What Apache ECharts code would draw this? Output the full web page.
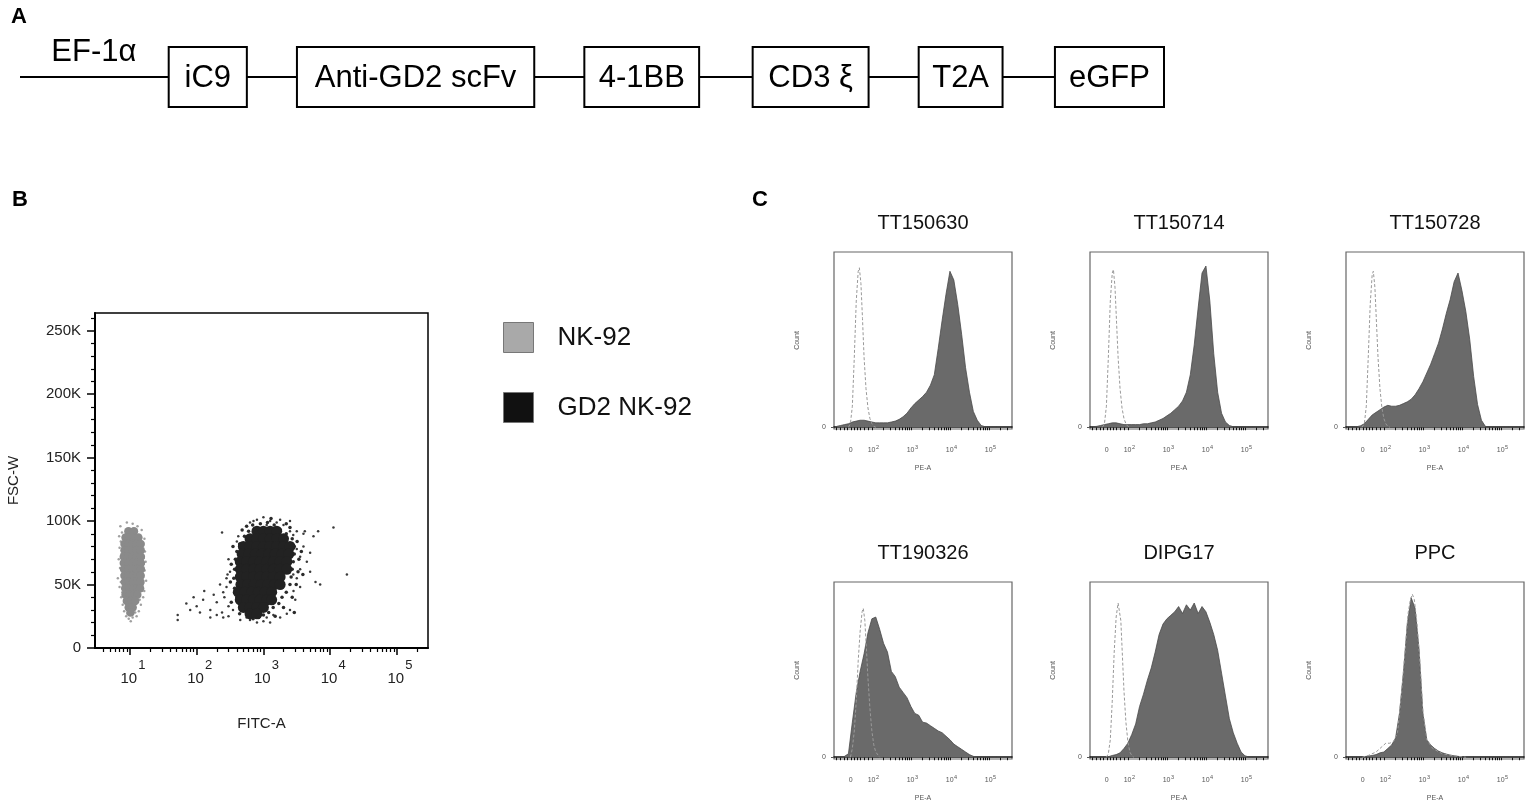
<!DOCTYPE html>
<html><head><meta charset="utf-8">
<script src="https://cdn.jsdelivr.net/npm/echarts@6/dist/echarts.min.js"></script>
<style>html,body{margin:0;padding:0;background:#fff}#c{width:1535px;height:812px}</style>
</head><body><div id="c"></div>
<script>
const FONT = '"Liberation Sans", Arial, Helvetica, sans-serif';

// ---------- Panel A: construct ----------
const promoterName = 'EF-1α';
const promoterSpan = [0, 12.9];
const partNames = ['iC9', 'Anti-GD2 scFv', '4-1BB', 'CD3 ξ', 'T2A', 'eGFP'];
const partStart = [12.9, 24.1, 49.2, 63.9, 78.4, 90.3];
const partEnd   = [19.9, 45.0, 59.4, 74.2, 85.9, 100];

// ---------- Panel B: scatter [FITC-A, FSC-W (K)] ----------
const fitcRange = [3, 292000];
const fitcDecades = [10, 100, 1000, 10000, 100000];
const fscTicks = [0, 50, 100, 150, 200, 250];
const fscMax = 264;
const nk92Core = [[9.5,92],[11.5,92],
 [8.6,87],[10,87],[11.7,87],[13.4,87],
 [8.3,82],[9.5,82],[11,82],[12.6,82],[14.5,82],
 [8.3,77],[9.5,77],[11,77],[12.6,77],[14.5,77],
 [8.1,72],[9.4,72],[10.9,72],[12.6,72],[14.6,72],
 [8.1,67],[9.4,67],[10.9,67],[12.6,67],[14.6,67],
 [8.2,62],[9.5,62],[11,62],[12.7,62],[14.6,62],
 [8.3,57],[9.6,57],[11.1,57],[12.8,57],[14.5,57],
 [8.4,52],[9.7,52],[11.2,52],[12.9,52],[14.4,52],
 [8.5,47],[9.8,47],[11.3,47],[13,47],[14.2,47],
 [8.6,42],[9.9,42],[11.3,42],[12.9,42],
 [9,37],[10.5,37],[12,37],
 [9.6,32],[11,32],
 [10.2,28]];
const nk92Sparse = [[7.2,96],[9,99],[11,98],[13,96],[15,93],[6.9,88],[16.5,86],[7,79],[16.8,76],[6.8,70],[17.2,68],[7.1,63],[16.6,61],[6.6,55],[17.5,53],[7,48],[16.4,45],[7.4,40],[15.8,40],[7.8,34],[14.6,34],[8.2,29],[13.6,29],[8.8,25],[12.6,25],[9.6,23],[11,24],[10.3,21],[15.5,50],[7.6,58],[16,71],[7.3,84],
 [7.6,91],[15.6,82],[7.5,74],[15.9,66],[7.3,52],[15.2,56],[7.7,44],[15,45],[8.3,37],[14,38],[9.2,27],[12,28]];
const gd2Core = [[800,92],[1000,92],[1260,92],[1580,92],
 [630,86],[800,86],[1000,86],[1260,86],[1580,86],[2000,86],
 [500,80],[630,80],[800,80],[1000,80],[1260,80],[1580,80],[2000,80],[2500,80],
 [480,74],[600,74],[760,74],[950,74],[1200,74],[1500,74],[1900,74],[2400,74],
 [450,68],[560,68],[710,68],[890,68],[1120,68],[1410,68],[1780,68],[2240,68],
 [450,62],[560,62],[710,62],[890,62],[1120,62],[1410,62],[1780,62],[2240,62],
 [450,56],[560,56],[710,56],[890,56],[1120,56],[1410,56],[1780,56],
 [460,50],[580,50],[730,50],[920,50],[1160,50],[1460,50],[1780,50],
 [420,44],[530,44],[670,44],[840,44],[1060,44],[1330,44],
 [450,38],[560,38],[710,38],[890,38],[1120,38],[1330,38],
 [500,32],[630,32],[800,32],[1000,32],
 [630,27],[800,27]];
const gd2Halo = [[690,97],[900,98],[1150,99],[1450,97],[1800,93],[2200,90],[2700,86],[2900,80],[2900,74],[2800,68],[2700,62],[2600,56],[2500,50],[2200,44],[1900,40],[1700,35],[1400,32],[1200,28],[1000,26],[850,24],[700,23],[560,28],[460,33],[400,40],[370,47],[360,55],[370,62],[380,70],[400,76],[440,82],[520,88],[600,92],
 [560,96],[2500,95],[3200,84],[3400,70],[3300,60],[3100,50],[2700,40],[2000,32],[1500,25],[440,27],[330,36],[320,52],[330,66],[350,80],[480,93],[1300,102],[2200,98],[3700,76],[3900,58],[2900,28]];
const gd2Sparse = [[630,99],[800,101],[1000,103],[1260,100],[1580,99],[2000,97],[2500,92],[710,100],[1120,97],[1780,101],
 [2800,89],[3160,78],[3550,72],[3980,80],[4470,68],[5010,60],[5620,88],[2800,58],[3160,55],[3550,48],[2820,45],[3000,38],[2500,30],[2240,27],[1780,24],[3980,90],[4170,92],[6600,92],[6030,52],[5010,75],[3550,62],[3160,92],[2500,100],
 [1000,21],[1260,20],[630,22],[800,20],[1120,24],[1410,26],[560,24],[450,22],
 [400,84],[420,88],[300,70],[290,58],[280,48],[260,40],[316,60],[300,33],[280,55],[250,44],[240,28],[224,50],[200,36],[180,42],[160,30],[130,45],[125,38],[112,28],[100,33],[90,40],[80,30],[70,35],[52,22],[52,26],[240,91],[350,30],[420,36],[300,25],[250,24],[200,26],[160,24],
 [11200,95],[17800,58],[7080,50]];

// ---------- Panel C: histograms (PE-A display scale, decades) ----------
const sampleNames = ['TT150630', 'TT150714', 'TT150728', 'TT190326', 'DIPG17', 'PPC'];
const peRange = [1.03, 5.59];
const peZero = 1.46;
const peDecades = [2, 3, 4, 5];
const peBins = [1.1,1.2,1.3,1.4,1.5,1.6,1.7,1.8,1.9,2.0,2.1,2.2,2.3,2.4,2.5,2.6,2.7,2.8,2.9,3.0,3.1,3.2,3.3,3.4,3.5,3.6,3.7,3.8,3.9,4.0,4.1,4.2,4.3,4.4,4.5,4.6,4.7,4.8,4.9,5.0,5.1,5.2,5.3,5.4,5.5];
const tt150630Stained = [.5,1,1.5,2,3,3.5,4,4,3.5,3, 2.5,2.5,2.5,2.5,3,3.5,4.5,6,8,11, 13.5,15.5,17.5,20,24,30,45,61,76,89, 84,70,53,34,20,9,4,1,.3,0, 0,0,0,0,0];
const tt150714Stained = [.3,.5,1,1.5,2,2.5,2.5,2,1.5,1.5, 1.5,1.5,1.5,2,2,2.5,3,4,5,6.5, 8,10,12,15,20,30,47,68,88,92, 72,42,20,8,3,1,.3,0,0,0, 0,0,0,0,0];
const tt150728Stained = [0,0,.3,.8,2,4.5,7,8.5,10,11.5, 12.5,12,12,12.5,13.5,14.5,16,18.5,22,26, 31,36,42,48,56,65,73,83,88,78, 66,50,29,13,4,.5,0,0,0,0, 0,0,0,0,0];
const tt190326Stained = [0,0,.5,2,20,37,49,59,71,79, 80,73,65,60,49,46,40,37,34,29, 25,24,20,19.5,18,16.5,15,14,12,10, 7.5,6,4.5,3,1.5,.5,.2,0,0,0, 0,0,0,0,0];
const dipg17Stained = [0,0,0,0,.3,1,1.5,2.5,5,8, 13,19,29,36,44,51,60,70,76,79, 81,83,86,82,87,84,88,82,86,83, 77,70,61,48,35,22,14,8,3,.8, .2,0,0,0,0];
const ppcStained = [0,0,0,0,.3,.7,1,1.5,2.5,3, 5,7,11,25,48,76,91,85,62,25, 10,7,5,3.5,2.5,1.8,1.2,.8,.5,.3, .1,0,0,0,0, 0,0,0,0,0, 0,0,0,0,0];
const tt150630Control = [[1.40,0],[1.45,2],[1.50,12],[1.55,40],[1.60,72],[1.65,89],[1.68,91],[1.72,82],[1.76,62],[1.80,40],[1.85,22],[1.90,11],[1.95,5],[2.00,2],[2.05,.5],[2.10,0]];
const tt150714Control = [[1.35,0],[1.40,2],[1.45,12],[1.50,40],[1.55,72],[1.60,88],[1.63,90],[1.67,80],[1.71,60],[1.75,40],[1.80,22],[1.85,11],[1.90,5],[1.95,2],[2.00,.5],[2.05,0]];
const tt150728Control = [[1.44,0],[1.50,2],[1.55,12],[1.60,40],[1.65,70],[1.70,87],[1.73,89],[1.77,80],[1.81,60],[1.85,40],[1.90,22],[1.95,11],[2.00,5],[2.05,2],[2.10,.5],[2.15,0]];
const tt190326Control = [[1.45,0],[1.50,5],[1.55,15],[1.60,32],[1.65,55],[1.70,72],[1.75,83],[1.78,85],[1.82,78],[1.86,62],[1.90,45],[1.95,28],[2.00,15],[2.05,7],[2.10,3],[2.20,0]];
const dipg17Control = [[1.45,0],[1.50,2],[1.55,10],[1.60,32],[1.65,60],[1.70,80],[1.75,88],[1.78,89],[1.82,78],[1.86,58],[1.90,38],[1.95,20],[2.00,9],[2.05,3],[2.10,1],[2.15,0]];
const ppcControl = [[1.45,0],[1.60,1],[1.80,3],[1.95,6],[2.05,8],[2.15,8],[2.25,9],[2.35,14],[2.45,36],[2.55,62],[2.62,82],[2.68,90],[2.73,93],[2.78,90],[2.85,76],[2.93,52],[3.00,26],[3.10,10],[3.25,5],[3.50,2],[3.80,.8],[4.10,0]];
const stainedSets = [tt150630Stained, tt150714Stained, tt150728Stained, tt190326Stained, dipg17Stained, ppcStained];
const controlSets = [tt150630Control, tt150714Control, tt150728Control, tt190326Control, dipg17Control, ppcControl];

// ---------- build ----------
const lg = Math.log10;
const grids = [], xAxes = [], yAxes = [], series = [], titles = [];

function panelLabel(t, left, top) {
  titles.push({text: t, left: left, top: top, padding: 0,
    textStyle: {fontSize: 22, fontWeight: 'bold', color: '#000', fontFamily: FONT}});
}
panelLabel('A', 11, 6);
panelLabel('B', 12, 189);
panelLabel('C', 752, 189);

// Panel A
grids.push({left: 20, top: 46, width: 1145, height: 62});
xAxes.push({gridIndex: 0, type: 'value', min: 0, max: 100, show: false});
yAxes.push({gridIndex: 0, type: 'value', min: 0, max: 1, show: false});
series.push({type: 'line', xAxisIndex: 0, yAxisIndex: 0, data: [[0, 0.5], [100, 0.5]],
  symbol: 'none', lineStyle: {color: '#000', width: 2}, silent: true, z: 1});
series.push({type: 'custom', xAxisIndex: 0, yAxisIndex: 0, z: 2, silent: true,
  data: partNames.map((n, i) => [partStart[i], partEnd[i]]),
  renderItem(params, api) {
    const a = api.coord([api.value(0), 1]);
    const b = api.coord([api.value(1), 0]);
    return {type: 'group', children: [
      {type: 'rect', shape: {x: a[0] + 1, y: a[1] + 1, width: b[0] - a[0] - 2, height: b[1] - a[1] - 2},
        style: {fill: '#fff', stroke: '#000', lineWidth: 2}},
      {type: 'text', x: (a[0] + b[0]) / 2, y: (a[1] + b[1]) / 2 + 1,
        style: {text: partNames[params.dataIndex], fill: '#000', fontSize: 31, fontFamily: FONT,
          align: 'center', verticalAlign: 'middle'}}
    ]};
  }});
series.push({type: 'custom', xAxisIndex: 0, yAxisIndex: 0, z: 2, silent: true,
  data: [promoterSpan],
  renderItem(params, api) {
    const p = api.coord([(api.value(0) + api.value(1)) / 2, 0.9]);
    return {type: 'text', x: p[0], y: p[1],
      style: {text: promoterName, fill: '#000', fontSize: 31, fontFamily: FONT, align: 'center', verticalAlign: 'middle'}};
  }});

// Panel B
const bMin = lg(fitcRange[0]), bMax = lg(fitcRange[1]);
const bMinor = [];
for (let d = 0; d <= 5; d++) for (let m = 2; m <= 9; m++) {
  const v = d + lg(m); if (v > bMin && v < bMax) bMinor.push(v);
}
const fscMinor = [];
for (let v = 10; v < fscMax; v += 10) if (v % 50) fscMinor.push(v);
grids.push({left: 95, top: 313, width: 333, height: 335, show: true, borderColor: '#000', borderWidth: 1.5});
const bLabelRich = {
  b: {fontSize: 15, color: '#222', fontFamily: FONT, padding: [0, 0, 0, 6]},
  s: {fontSize: 13, color: '#222', fontFamily: FONT, padding: [0, 0, 26, 1]}
};
xAxes.push({gridIndex: 1, type: 'value', min: bMin, max: bMax, position: 'bottom',
  axisLine: {lineStyle: {color: '#000', width: 2}}, splitLine: {show: false},
  axisTick: {customValues: fitcDecades.map(lg), length: 7, lineStyle: {color: '#000', width: 1.5}},
  axisLabel: {customValues: fitcDecades.map(lg), margin: 11,
    formatter: v => '{b|10}{s|' + Math.round(v) + '}', rich: bLabelRich},
  name: 'FITC-A', nameLocation: 'middle', nameGap: 68,
  nameTextStyle: {fontSize: 15, color: '#222', fontFamily: FONT}});
xAxes.push({gridIndex: 1, type: 'value', min: bMin, max: bMax, position: 'bottom',
  axisLine: {show: false}, splitLine: {show: false}, axisLabel: {show: false},
  axisTick: {customValues: bMinor, length: 4, lineStyle: {color: '#000', width: 1.2}}});
yAxes.push({gridIndex: 1, type: 'value', min: 0, max: fscMax, position: 'left',
  axisLine: {lineStyle: {color: '#000', width: 2}}, splitLine: {show: false},
  axisTick: {customValues: fscTicks, length: 8, lineStyle: {color: '#000', width: 1.5}},
  axisLabel: {customValues: fscTicks, margin: 14, fontSize: 15, color: '#222', fontFamily: FONT,
    formatter: v => v === 0 ? '0' : v + 'K'},
  name: 'FSC-W', nameLocation: 'middle', nameGap: 74, nameRotate: 90,
  nameTextStyle: {fontSize: 15, color: '#222', fontFamily: FONT}});
yAxes.push({gridIndex: 1, type: 'value', min: 0, max: fscMax, position: 'left',
  axisLine: {show: false}, splitLine: {show: false}, axisLabel: {show: false},
  axisTick: {customValues: fscMinor, length: 4, lineStyle: {color: '#000', width: 1.2}}});
const toB = arr => arr.map(p => [lg(p[0]), p[1]]);
function scat(name, data, size, color, z) {
  series.push({type: 'scatter', name: name, xAxisIndex: 1, yAxisIndex: 1, data: toB(data),
    symbolSize: size, itemStyle: {color: color, opacity: 1}, z: z, silent: true});
}
scat('NK-92', nk92Sparse, 2.5, '#a0a0a0', 3);
scat('NK-92', nk92Core, 8.5, '#8a8a8a', 4);
scat('GD2 NK-92', gd2Sparse, 2.5, '#3a3a3a', 3);
scat('GD2 NK-92', gd2Halo, 3.5, '#2a2a2a', 3);
scat('GD2 NK-92', gd2Core, 11, '#222222', 4);

// Panel C
const cLefts = [834, 1090, 1346], cTops = [252, 582];
const peTicks = [1.1, 1.2, 1.3, 1.38, peZero, 1.54, 1.62, 1.7, 1.8, 1.9];
for (let d = 2; d <= 5; d++) for (let m = 1; m <= 9; m++) {
  const v = d + lg(m); if (v < peRange[1]) peTicks.push(v);
}
const cRich = {
  b: {fontSize: 7, color: '#555', fontFamily: FONT, padding: [0, 0, 0, 3]},
  s: {fontSize: 5.5, color: '#555', fontFamily: FONT, padding: [0, 0, 6, 0.5]},
  z: {fontSize: 7, color: '#555', fontFamily: FONT, lineHeight: 11.5}
};
sampleNames.forEach((name, i) => {
  const left = cLefts[i % 3], top = cTops[Math.floor(i / 3)];
  const gi = 2 + i, ai = 3 + i;
  grids.push({left: left, top: top, width: 178, height: 177, show: true, borderColor: '#666', borderWidth: 1.2});
  xAxes.push({gridIndex: gi, type: 'value', min: peRange[0], max: peRange[1], position: 'bottom',
    axisLine: {lineStyle: {color: '#111', width: 1.6}}, splitLine: {show: false},
    axisTick: {customValues: peTicks, length: 3, lineStyle: {color: '#111', width: 1}},
    axisLabel: {customValues: [peZero].concat(peDecades), margin: 15,
      formatter: v => v < 1.9 ? '{z|0}' : '{b|10}{s|' + Math.round(v) + '}', rich: cRich},
    name: 'PE-A', nameLocation: 'middle', nameGap: 36,
    nameTextStyle: {fontSize: 7, color: '#555', fontFamily: FONT}});
  yAxes.push({gridIndex: gi, type: 'value', min: -1, max: 100, position: 'left',
    axisLine: {show: false}, splitLine: {show: false},
    axisTick: {customValues: [0], length: 3, lineStyle: {color: '#555'}},
    axisLabel: {customValues: [0], margin: 8, fontSize: 7, color: '#555', fontFamily: FONT, formatter: () => '0'},
    name: 'Count', nameLocation: 'middle', nameGap: 33, nameRotate: 90,
    nameTextStyle: {fontSize: 7, color: '#555', fontFamily: FONT}});
  series.push({type: 'line', xAxisIndex: ai, yAxisIndex: ai, silent: true, z: 2,
    data: peBins.map((u, j) => [u, stainedSets[i][j]]), symbol: 'none',
    lineStyle: {color: '#4a4a4a', width: 0.8}, areaStyle: {color: '#6a6a6a', opacity: 1}});
  series.push({type: 'line', xAxisIndex: ai, yAxisIndex: ai, silent: true, z: 3,
    data: controlSets[i], symbol: 'none',
    lineStyle: {color: '#999', width: 1, type: [3, 2]}});
  titles.push({text: name, left: left + 89, top: top - 39, textAlign: 'center', padding: 0,
    textStyle: {fontSize: 20, fontWeight: 'normal', color: '#111', fontFamily: FONT}});
});

const chart = echarts.init(document.getElementById('c'));
chart.setOption({
  animation: false,
  backgroundColor: '#fff',
  title: titles,
  legend: {left: 503, top: 322, orient: 'vertical', itemWidth: 30, itemHeight: 30, itemGap: 39,
    icon: 'rect', padding: 0, selectedMode: false,
    itemStyle: {borderColor: '#777', borderWidth: 1},
    textStyle: {fontSize: 26, color: '#111', fontFamily: FONT, padding: [0, 0, 0, 19]},
    data: [{name: 'NK-92', itemStyle: {color: '#a9a9a9', opacity: 1}}, {name: 'GD2 NK-92', itemStyle: {color: '#111', opacity: 1}}]},
  grid: grids, xAxis: xAxes, yAxis: yAxes, series: series
});
</script></body></html>
